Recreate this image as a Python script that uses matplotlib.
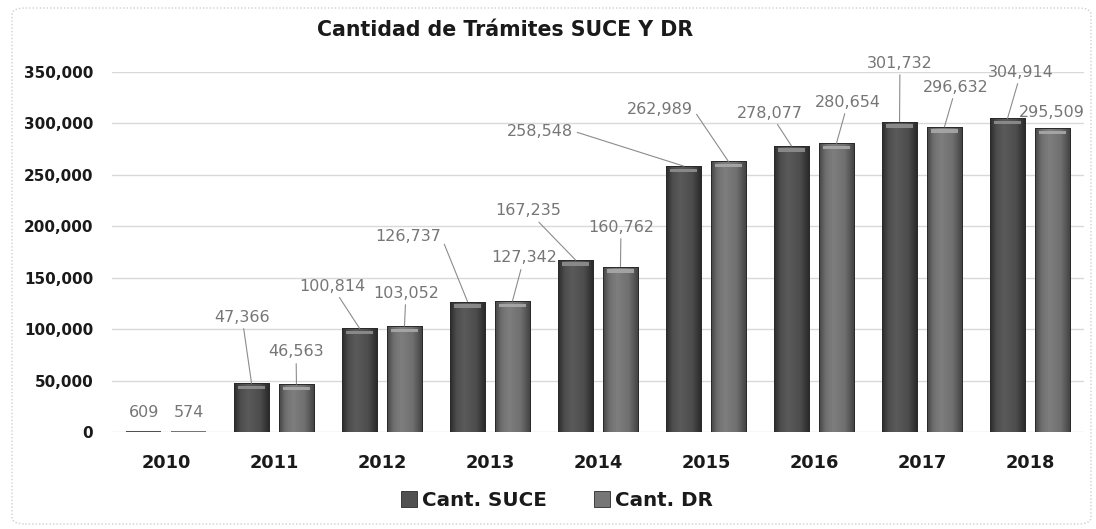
import numpy as np
import matplotlib
matplotlib.use("Agg")
import matplotlib.pyplot as plt
from matplotlib.patches import FancyBboxPatch, Rectangle
from matplotlib.colors import LinearSegmentedColormap
from matplotlib.lines import Line2D

# ---------------- data ----------------
years = ["2010", "2011", "2012", "2013", "2014", "2015", "2016", "2017", "2018"]
suce = [609, 47366, 100814, 126737, 167235, 258548, 278077, 301732, 304914]
dr = [574, 46563, 103052, 127342, 160762, 262989, 280654, 296632, 295509]
series_names = ["Cant. SUCE", "Cant. DR"]
yticks = [0, 50000, 100000, 150000, 200000, 250000, 300000, 350000]
title = "Cantidad de Trámites SUCE Y DR"

# label anchor positions (x in category units, y in data units)
suce_lab_x = [-0.204, 0.704, 1.537, 2.241, 3.352, 3.463, 5.593, 6.796, 7.917]
suce_lab_y = [18500, 111800, 141900, 190500, 214900, 292600, 310100, 358700, 350000]
dr_lab_x = [0.213, 1.204, 2.222, 3.315, 4.213, 4.574, 6.315, 7.315, 8.204]
dr_lab_y = [18500, 77800, 135100, 169200, 199300, 314000, 320800, 335400, 311100]
suce_leader = [False, True, True, True, True, True, True, True, True]
dr_leader = [False, True, True, True, True, True, True, True, False]
# where the leader leaves the label: (relative x, relative y) on the text box
suce_relpos = [None, (0.5, 0.5), (0.5, 0.5), (1.0, 0.5), (0.5, 0.5), (1.0, 0.5),
               (0.5, 0.5), (0.5, 0.5), (0.5, 0.5)]
dr_relpos = [None, (0.5, 0.5), (0.5, 0.5), (0.5, 0.5), (0.5, 0.5), (1.0, 0.5),
             (0.5, 0.5), (0.5, 0.5), None]

# ---------------- figure ----------------
W, H = 1096, 529
fig = plt.figure(figsize=(W / 100, H / 100), dpi=100)
fig.patch.set_facecolor("white")

frame = FancyBboxPatch((12 / W, 5 / H), 1079 / W, 516 / H,
                       boxstyle="round,pad=0,rounding_size=0.012",
                       transform=fig.transFigure, facecolor="none",
                       edgecolor="#cfcfcf", linewidth=1.0, linestyle=(0, (1, 1.5)),
                       zorder=-10)
fig.patches.append(frame)

ax = fig.add_axes([112 / W, 97 / H, 972 / W, 360 / H])
ax.set_facecolor("none")
for s in ax.spines.values():
    s.set_visible(False)
ax.set_yticks(yticks)
ax.set_yticklabels([f"{v:,}" for v in yticks], fontsize=11, fontweight="bold",
                   color="#1a1a1a")
x = np.arange(len(years))
ax.set_xticks(x)
ax.set_xticklabels(years, fontsize=12.8, fontweight="bold", color="#1a1a1a")
ax.tick_params(axis="both", length=0)
ax.tick_params(axis="y", pad=13.5)
ax.tick_params(axis="x", pad=16)
ax.grid(axis="y", color="#d9d9d9", linewidth=1.0, zorder=0)
ax.set_axisbelow(True)

bw = 0.324
off = 0.208

def grad_cmap(edge, mid, light):
    return LinearSegmentedColormap.from_list(
        "g", [(0, edge), (0.18, mid), (0.4, light), (0.75, mid), (1, edge)])

styles = [
    dict(cmap=grad_cmap("#2b2b2b", "#4d4d4d", "#5a5a5a"), face="#505050",
         top="#8f8f8f"),
    dict(cmap=grad_cmap("#454545", "#6f6f6f", "#7e7e7e"), face="#767676",
         top="#a9a9a9"),
]

legend_handles = []
px_to_data = 350000 / 360.0
for k, (vals, st) in enumerate(zip([suce, dr], styles)):
    pos = x + (-off if k == 0 else off)
    bars = ax.bar(pos, vals, width=bw, color=st["face"], edgecolor="#2a2a2a",
                  linewidth=0.6, zorder=2)
    grad = np.linspace(0, 1, 64).reshape(1, -1)
    for b in bars:
        x0, w, h = b.get_x(), b.get_width(), b.get_height()
        if h <= 2 * px_to_data:
            b.set_edgecolor("none")
            continue
        im = ax.imshow(grad, cmap=st["cmap"], aspect="auto",
                       extent=[x0, x0 + w, 0, h], zorder=2.1, interpolation="bicubic")
        im.set_clip_path(b)
        if h > 8 * px_to_data:
            ax.add_patch(Rectangle((x0 + w * 0.12, h - 6 * px_to_data), w * 0.76,
                                   3.5 * px_to_data, facecolor=st["top"],
                                   edgecolor="none", zorder=2.2, alpha=0.9))
        ax.add_patch(Rectangle((x0, 0), w, h, facecolor="none",
                               edgecolor="#2a2a2a", linewidth=0.7, zorder=2.3))
    legend_handles.append(Line2D([0], [0], marker="s", linestyle="none",
                                 markersize=11.5, markerfacecolor=st["face"],
                                 markeredgecolor="#2a2a2a", markeredgewidth=0.6))
ax.set_xlim(-0.5, 8.5)
ax.set_ylim(0, 350000)

lab_color = "#767676"
for k, (vals, lx, ly, lead, rp) in enumerate(
        [(suce, suce_lab_x, suce_lab_y, suce_leader, suce_relpos),
         (dr, dr_lab_x, dr_lab_y, dr_leader, dr_relpos)]):
    for i, v in enumerate(vals):
        bx = x[i] + (-off if k == 0 else off)
        if lead[i]:
            ax.annotate(f"{v:,}", xy=(bx, v), xytext=(lx[i], ly[i]),
                        ha="center", va="center", fontsize=11.5, color=lab_color,
                        arrowprops=dict(arrowstyle="-", color="#8c8c8c", lw=0.8,
                                        shrinkA=1, shrinkB=0, relpos=rp[i]),
                        zorder=4)
        else:
            ax.text(lx[i], ly[i], f"{v:,}", ha="center", va="center",
                    fontsize=11.5, color=lab_color, zorder=4)

fig.text(505 / W, 1 - 30 / H, title, ha="center", va="center", fontsize=14.8,
         fontweight="bold", color="#1a1a1a")

fig.legend(legend_handles, series_names, loc="center",
           bbox_to_anchor=(557 / W, 1 - 500 / H), ncol=2, frameon=False,
           prop=dict(size=14.3, weight="bold"), handletextpad=0.25,
           columnspacing=2.4, handlelength=0.8, labelcolor="#1a1a1a")

fig.savefig("out.png", dpi=100, facecolor="white")
